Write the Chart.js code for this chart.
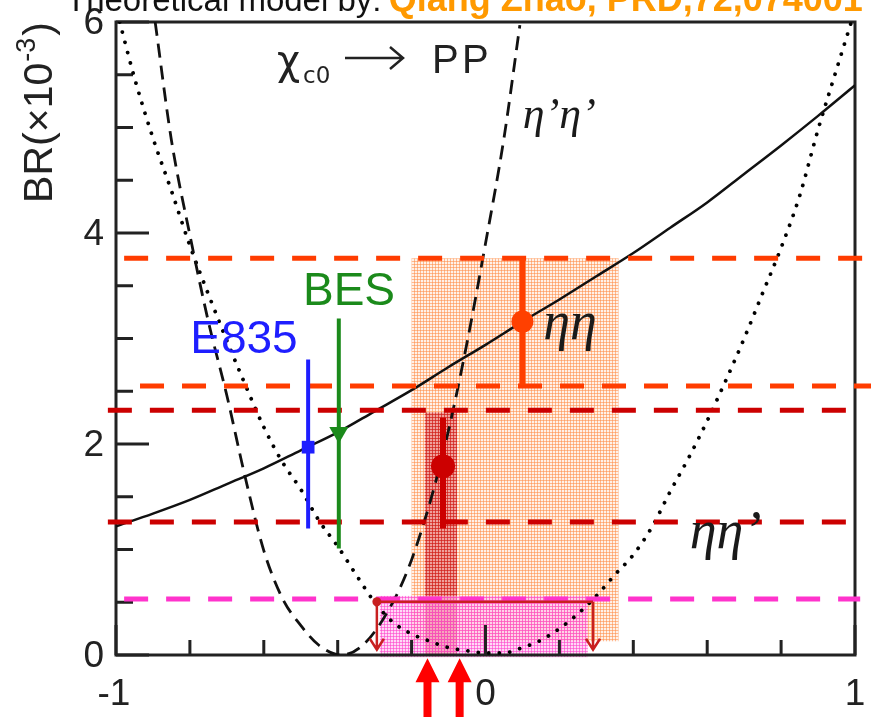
<!DOCTYPE html>
<html>
<head>
<meta charset="utf-8">
<script src="https://cdn.jsdelivr.net/npm/chart.js@4/dist/chart.umd.min.js"></script>
<style>
  html, body { margin: 0; padding: 0; background: #ffffff; }
  #wrap { width: 871px; height: 717px; position: relative; }
</style>
</head>
<body>
<div id="wrap"><canvas id="chart" width="871" height="717"></canvas></div>
<script>
// Theory curves: BR(chi_c0 -> PP) in units of 1e-3 versus the model parameter
const etaEtaX  = [-1.0,-0.9,-0.8,-0.7,-0.6,-0.5,-0.4,-0.3,-0.2,-0.1,0.0,0.1,0.2,0.3,0.4,0.5,0.6,0.7,0.8,0.9,1.0];
const etaEtaBR = [1.22,1.34,1.47,1.62,1.77,1.94,2.11,2.31,2.51,2.73,2.94,3.16,3.37,3.59,3.81,4.05,4.29,4.56,4.83,5.11,5.40];

const etapEtapX  = [-0.894,-0.85,-0.80,-0.75,-0.70,-0.65,-0.60,-0.55,-0.50,-0.45,-0.39,-0.33,-0.27,-0.21,-0.15,-0.10,-0.05,0.0,0.05,0.093];
const etapEtapBR = [6.00,4.88,3.98,3.16,2.46,1.68,0.99,0.54,0.28,0.09,0.00,0.10,0.38,0.81,1.45,2.13,2.96,3.90,4.90,5.97];

const etaEtapX  = [-0.99,-0.95,-0.90,-0.85,-0.80,-0.75,-0.70,-0.65,-0.60,-0.55,-0.50,-0.45,-0.40,-0.35,-0.30,-0.25,-0.20,-0.15,-0.10,-0.05,0.0,0.05,0.10,0.15,0.20,0.25,0.30,0.35,0.40,0.45,0.50,0.55,0.60,0.65,0.70,0.75,0.80,0.85,0.90,0.95,0.99];
const etaEtapBR = [6.00,5.47,4.90,4.40,3.88,3.42,2.98,2.56,2.16,1.83,1.57,1.27,1.03,0.76,0.50,0.31,0.20,0.13,0.07,0.04,0.02,0.02,0.07,0.14,0.25,0.39,0.56,0.76,0.95,1.21,1.55,1.87,2.22,2.60,3.00,3.43,3.86,4.35,4.98,5.55,6.00];

// Measurements: E835, BES, eta eta, eta eta'
const expNames = ['E835', 'BES', 'ηη', 'ηη’'];
const expX     = [-0.48, -0.397, 0.10, -0.115];
const expBR    = [1.97, 2.11, 3.16, 1.79];
const expLow   = [1.20, 1.01, 2.56, 1.20];
const expHigh  = [2.80, 3.19, 3.76, 2.25];

// Measured BR levels drawn as horizontal bands
const etaEtaLevels  = [3.76, 2.55];
const etaEtapLevels = [2.32, 1.26];
const etapEtapLimit = [0.53];

// Allowed parameter regions (x range, BR range)
const regionXLow  = [-0.20, -0.164, -0.286];
const regionXHigh = [0.36, -0.077, 0.277];
const regionYLow  = [0.13, 0.0, -0.02];
const regionYHigh = [3.76, 2.30, 0.56];

// eta' eta' upper limit bracket
const limitX  = [-0.294, 0.291];
const limitBR = [0.505, 0.05];

// Preferred parameter values
const bestX = [-0.157, -0.07];

// Axis ticks
const xTicks = [-1,-0.8,-0.6,-0.4,-0.2,0,0.2,0.4,0.6,0.8,1];
const xTickLabels = ['-1','0','1'];
const yTicks = [0,0.5,1,1.5,2,2.5,3,3.5,4,4.5,5,5.5,6];
const yTickLabels = ['0','2','4','6'];

const SANS = '"Liberation Sans", Arial, Helvetica, sans-serif';
const SERIF = '"Liberation Serif", "Times New Roman", serif';

const canvas = document.getElementById('chart');
const ctx = canvas.getContext('2d');

function mesh(fill, line) {
  const c = document.createElement('canvas');
  c.width = 3; c.height = 3;
  const g = c.getContext('2d');
  g.fillStyle = fill; g.fillRect(0, 0, 3, 3);
  g.fillStyle = line; g.fillRect(0, 0, 3, 1); g.fillRect(0, 0, 1, 3);
  return ctx.createPattern(c, 'repeat');
}
const regionFills = [
  mesh('rgba(255,215,190,0.35)', 'rgba(255,140,70,0.55)'),
  mesh('rgba(225,95,95,0.55)', 'rgba(205,25,25,0.6)'),
  mesh('rgba(255,170,235,0.45)', 'rgba(255,70,205,0.6)')
];

const pts = (xs, ys) => xs.map((x, i) => ({ x, y: ys[i] }));

const curveStyle = { type: 'line', pointRadius: 0, borderColor: '#111', borderWidth: 2.5,
  fill: false, showLine: true, cubicInterpolationMode: 'monotone', order: 5 };

function levelLine(y, x0, x1, color) {
  return { type: 'line', data: [{ x: x0, y }, { x: x1, y }], borderColor: color, borderWidth: 5,
    borderDash: [24, 18], borderCapStyle: 'butt', pointRadius: 0, showLine: true, fill: false,
    clip: false, order: 3 };
}

const expColors = ['#1e1eff', '#1b8a1b', '#ff4000', '#cc0000'];
const expWidths = [4, 4, 6, 6];
const expStyles = ['rect', 'triangle', 'circle', 'circle'];
const expRadius = [9, 11, 11, 12];
const expRotation = [0, 180, 0, 0];

const datasets = [
  Object.assign({}, curveStyle, { label: 'ηη', data: pts(etaEtaX, etaEtaBR) }),
  Object.assign({}, curveStyle, { label: 'η’η’', data: pts(etapEtapX, etapEtapBR), borderDash: [14, 8], borderWidth: 2.8 }),
  Object.assign({}, curveStyle, { label: 'ηη’', data: pts(etaEtapX, etaEtapBR), borderDash: [0.01, 10.5],
    borderCapStyle: 'round', borderWidth: 3.8, borderColor: '#000' }),
  levelLine(etaEtaLevels[0], -0.978, 1.05, '#ff3c00'),
  levelLine(etaEtaLevels[1], -0.935, 1.05, '#ff3c00'),
  levelLine(etaEtapLevels[0], -1.022, 0.976, '#cc0000'),
  levelLine(etaEtapLevels[1], -1.022, 0.976, '#cc0000'),
  levelLine(etapEtapLimit[0], -0.978, 1.014, '#ff33cc')
];
expX.forEach((x, i) => {
  datasets.push({ type: 'line', label: expNames[i] + ' error', data: [{ x, y: expLow[i] }, { x, y: expHigh[i] }],
    borderColor: expColors[i], borderWidth: expWidths[i], pointRadius: 0, showLine: true, fill: false, order: 2 });
  datasets.push({ type: 'scatter', label: expNames[i], data: [{ x, y: expBR[i] }], pointStyle: expStyles[i],
    pointRadius: expRadius[i], rotation: expRotation[i], backgroundColor: expColors[i],
    borderColor: expColors[i], borderWidth: 0, order: 1 });
});

const decor = {
  id: 'decor',
  beforeDatasetsDraw(chart) {
    const { ctx: c, chartArea: a, scales: { x: sx, y: sy } } = chart;
    c.save();
    // allowed regions
    regionXLow.forEach((x0, i) => {
      const l = sx.getPixelForValue(x0), r = sx.getPixelForValue(regionXHigh[i]);
      const t = sy.getPixelForValue(regionYHigh[i]), b = sy.getPixelForValue(regionYLow[i]);
      c.fillStyle = regionFills[i];
      c.fillRect(l, t, r - l, b - t);
    });
    // frame
    c.strokeStyle = '#222';
    c.lineWidth = 3;
    c.strokeRect(a.left, a.top, a.right - a.left, a.bottom - a.top);
    // inward ticks
    c.beginPath();
    xTicks.forEach(v => {
      const p = sx.getPixelForValue(v);
      const len = Number.isInteger(v) ? 30 : 15;
      c.moveTo(p, a.bottom); c.lineTo(p, a.bottom - len);
    });
    yTicks.forEach(v => {
      const p = sy.getPixelForValue(v);
      const len = (v % 2 === 0) ? 33 : 17;
      c.moveTo(a.left, p); c.lineTo(a.left + len, p);
    });
    c.stroke();
    // tick labels
    c.fillStyle = '#222';
    c.font = '37px ' + SANS;
    c.textAlign = 'center'; c.textBaseline = 'middle';
    xTickLabels.forEach(s => c.fillText(s, sx.getPixelForValue(Number(s)) - (s === '-1' ? 2 : 0), a.bottom + 40));
    c.textAlign = 'right';
    yTickLabels.forEach(s => c.fillText(s, a.left - 12, sy.getPixelForValue(Number(s)) + 2));
    c.restore();
  },
  afterDatasetsDraw(chart) {
    const { ctx: c, scales: { x: sx, y: sy } } = chart;
    c.save();
    // eta' eta' upper limit bracket with down arrows
    const yTop = sy.getPixelForValue(limitBR[0]), yBot = sy.getPixelForValue(limitBR[1]);
    const xl = sx.getPixelForValue(limitX[0]), xr = sx.getPixelForValue(limitX[1]);
    c.strokeStyle = '#c82020'; c.fillStyle = '#c82020';
    c.lineWidth = 2.5;
    c.beginPath();
    c.moveTo(xl, yTop); c.lineTo(xr, yTop);
    [xl, xr].forEach(x => {
      c.moveTo(x, yTop); c.lineTo(x, yBot);
      c.moveTo(x - 7, yBot - 11); c.lineTo(x, yBot); c.lineTo(x + 7, yBot - 11);
    });
    c.stroke();
    c.beginPath(); c.arc(xl, yTop, 4.5, 0, Math.PI * 2); c.fill();

    // preferred-value arrows under the axis
    c.fillStyle = '#ff0000';
    bestX.forEach(v => {
      const x = sx.getPixelForValue(v);
      const tip = sy.getPixelForValue(-0.03);
      c.beginPath();
      c.moveTo(x, tip); c.lineTo(x + 12, tip + 24); c.lineTo(x + 4, tip + 24);
      c.lineTo(x + 4, chart.height + 2); c.lineTo(x - 4, chart.height + 2);
      c.lineTo(x - 4, tip + 24); c.lineTo(x - 12, tip + 24);
      c.closePath(); c.fill();
    });

    // y axis title BR(x10^-3)
    c.save();
    c.translate(37, 114);
    c.rotate(-Math.PI / 2);
    c.fillStyle = '#222';
    c.textAlign = 'left'; c.textBaseline = 'alphabetic';
    const f1 = '41px ' + SANS, f2 = '27px ' + SANS;
    c.font = f1; const w1 = c.measureText('BR(×10').width, w3 = c.measureText(')').width;
    c.font = f2; const w2 = c.measureText('-3').width;
    const x0 = -(w1 + w2 + w3) / 2;
    c.font = f1; c.fillText('BR(×10', x0, 15);
    c.font = f2; c.fillText('-3', x0 + w1 + 1, -2);
    c.font = f1; c.fillText(')', x0 + w1 + w2 + 3, 15);
    c.restore();

    // heading (partly above the page)
    c.textAlign = 'left'; c.textBaseline = 'alphabetic';
    c.font = '33px ' + SANS; c.fillStyle = '#111';
    const head = 'Theoretical model by: ';
    c.fillText(head, 66, 11);
    const hw = c.measureText(head).width;
    c.font = 'bold 36px ' + SANS; c.fillStyle = '#ff9900';
    c.fillText('Qiang Zhao, PRD,72,074001', 64 + hw, 11);

    // process label
    c.fillStyle = '#222';
    c.font = '40px "DejaVu Sans", sans-serif';
    c.fillText('χ', 277, 74);
    c.font = '23px "DejaVu Sans", sans-serif';
    c.fillText('c0', 303, 83);
    c.strokeStyle = '#222'; c.lineWidth = 2.5;
    c.beginPath();
    c.moveTo(345, 58); c.lineTo(402, 58);
    c.moveTo(390, 47); c.lineTo(403, 58); c.lineTo(390, 69);
    c.stroke();
    c.font = '40px ' + SANS;
    c.fillText('P', 432, 73); c.fillText('P', 462, 73);

    // curve labels
    c.fillStyle = '#1a1a1a';
    c.font = 'italic 44px ' + SERIF;
    c.fillText('η’η’', sx.getPixelForValue(0.101), sy.getPixelForValue(5.0));
    c.font = 'italic 54px ' + SERIF;
    c.fillText('ηη', sx.getPixelForValue(0.156), sy.getPixelForValue(3.0));
    c.fillText('ηη’', sx.getPixelForValue(0.553), sy.getPixelForValue(1.01));

    // experiment labels
    c.font = '46px ' + SANS;
    c.fillStyle = expColors[0];
    c.fillText(expNames[0], sx.getPixelForValue(-0.799), sy.getPixelForValue(2.86));
    c.fillStyle = expColors[1];
    c.fillText(expNames[1], sx.getPixelForValue(-0.494), sy.getPixelForValue(3.32));
    c.restore();
  }
};

new Chart(ctx, {
  type: 'scatter',
  data: { datasets },
  options: {
    responsive: false,
    animation: false,
    devicePixelRatio: 1,
    layout: { padding: { left: 116, top: 22, right: 16, bottom: 62 } },
    scales: {
      x: { type: 'linear', min: -1, max: 1, display: false },
      y: { type: 'linear', min: 0, max: 6, display: false }
    },
    plugins: { legend: { display: false }, tooltip: { enabled: false } }
  },
  plugins: [decor]
});
</script>
</body>
</html>
